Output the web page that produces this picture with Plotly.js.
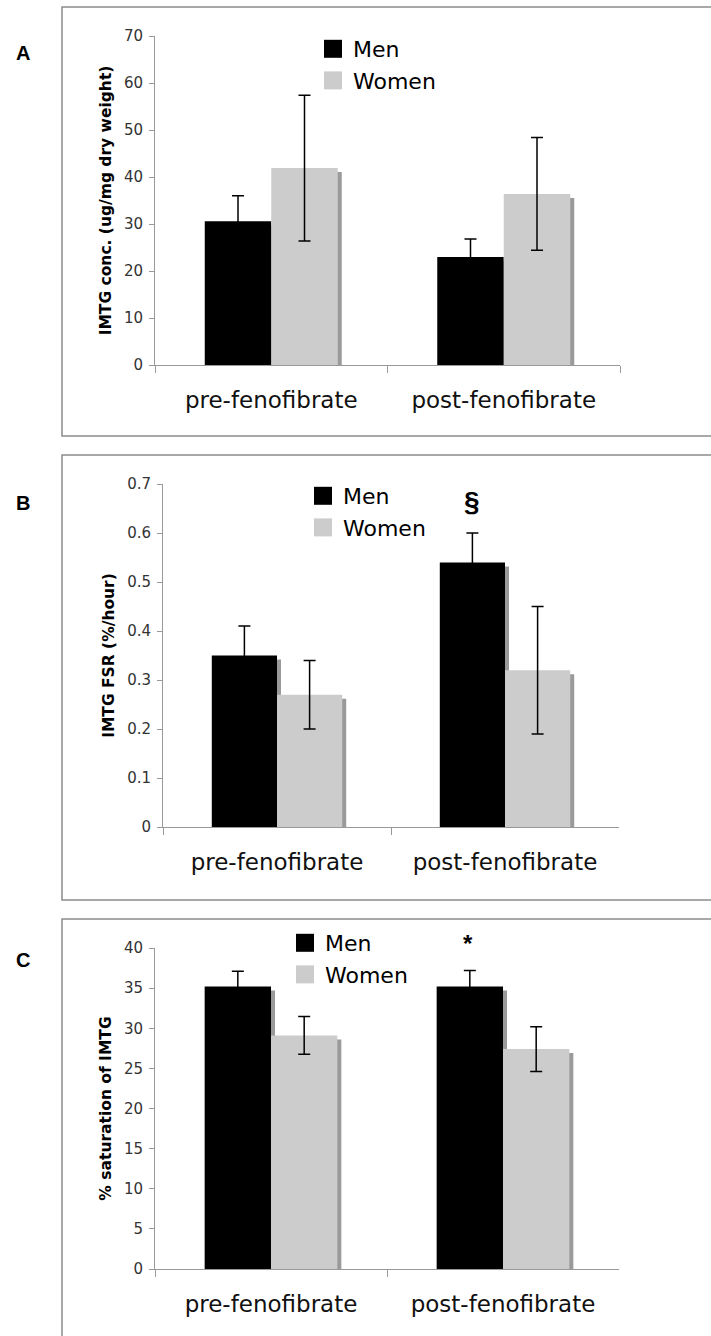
<!DOCTYPE html>
<html>
<head>
<meta charset="utf-8">
<script src="https://cdn.plot.ly/plotly-3.0.1.min.js"></script>
<style>
html,body{margin:0;padding:0;background:#fff;}
#chart{width:711px;height:1336px;}
</style>
</head>
<body>
<div id="chart"></div>
<script>
// ---- data ----
const categories = ['pre-fenofibrate', 'post-fenofibrate'];
const seriesNames = ['Men', 'Women'];

// Panel A: IMTG conc. (ug/mg dry weight)
const menA = [30.6, 23.0];
const menErrA = [5.4, 3.8];
const womenA = [41.9, 36.4];
const womenErrA = [15.5, 12.0];

// Panel B: IMTG FSR (%/hour)
const menB = [0.35, 0.54];
const menErrB = [0.06, 0.06];
const womenB = [0.27, 0.32];
const womenErrB = [0.07, 0.13];

// Panel C: % saturation of IMTG
const menC = [35.2, 35.2];
const menErrC = [1.9, 2.0];
const womenC = [29.1, 27.4];
const womenErrC = [2.35, 2.8];

const panelLetters = ['A', 'B', 'C'];
const yTitles = ['IMTG conc. (ug/mg dry weight)', 'IMTG FSR (%/hour)', '% saturation of IMTG'];
const yRanges = [[0, 70], [0, 0.7], [0, 40]];
const yDtick = [10, 0.1, 5];
const marks = ['', '§', '*'];

// ---- layout helpers ----
const W = 711, H = 1336;
const px = v => v / W;
const py = v => 1 - v / H;

// plot areas in pixels: [left, right, top, bottom]
const areas = [
  [155, 620, 36, 365],
  [163, 619, 484, 827],
  [155, 619, 948, 1269]
];

const BW = 0.286;            // bar width in category units
const MEN = '#000000', WOMEN = '#cccccc', SHADOW = '#9a9a9a';

const panels = [
  {men: menA, menErr: menErrA, women: womenA, womenErr: womenErrA},
  {men: menB, menErr: menErrB, women: womenB, womenErr: womenErrB},
  {men: menC, menErr: menErrC, women: womenC, womenErr: womenErrC}
];

const traces = [];
const layout = {
  width: W, height: H,
  margin: {l: 0, r: 0, t: 0, b: 0},
  paper_bgcolor: '#ffffff', plot_bgcolor: 'rgba(0,0,0,0)',
  barmode: 'overlay',
  showlegend: true,
  font: {family: 'DejaVu Sans', color: '#000'},
  shapes: [], annotations: []
};

panels.forEach((p, i) => {
  const a = areas[i];
  const xs = i === 0 ? '' : String(i + 1);
  const xa = 'x' + xs, ya = 'y' + xs;
  const legendId = i === 0 ? 'legend' : 'legend' + (i + 1);
  const catPx = (a[1] - a[0]) / 2;
  const unitPx = (a[3] - a[2]) / (yRanges[i][1] - yRanges[i][0]);
  const sdx = 4 / catPx, sdy = 4 / unitPx;   // shadow offset 4px

  // shadows (drawn first, behind)
  [[p.men, -BW], [p.women, 0]].forEach(([vals, off]) => {
    traces.push({
      type: 'bar', x: categories, y: vals.map(v => v - sdy),
      offset: off + sdx, width: BW,
      marker: {color: SHADOW, line: {width: 0}},
      xaxis: xa, yaxis: ya, showlegend: false, hoverinfo: 'skip'
    });
  });
  // Men
  traces.push({
    type: 'bar', name: seriesNames[0], x: categories, y: p.men,
    offset: -BW, width: BW,
    marker: {color: MEN, line: {width: 0}},
    error_y: {type: 'data', array: p.menErr, visible: true, color: '#000', thickness: 1.5, width: 6},
    xaxis: xa, yaxis: ya, legend: legendId, legendgroup: 'm' + i
  });
  // Women
  traces.push({
    type: 'bar', name: seriesNames[1], x: categories, y: p.women,
    offset: 0, width: BW,
    marker: {color: WOMEN, line: {width: 0}},
    error_y: {type: 'data', array: p.womenErr, visible: true, color: '#000', thickness: 1.5, width: 6},
    xaxis: xa, yaxis: ya, legend: legendId, legendgroup: 'w' + i
  });

  layout['xaxis' + xs] = {
    domain: [px(a[0]), px(a[1])], anchor: ya,
    type: 'category', range: [-0.5, 1.5],
    showline: true, linecolor: '#999', linewidth: 1,
    ticks: 'outside', tickson: 'boundaries', ticklen: 7, tickcolor: '#999',
    tickfont: {family: 'DejaVu Sans', size: 23, color: '#111'},
    ticklabelstandoff: 14,
    showgrid: false, zeroline: false, fixedrange: true
  };
  layout['yaxis' + xs] = {
    domain: [py(a[3]), py(a[2])], anchor: xa,
    range: yRanges[i], dtick: yDtick[i], tick0: 0,
    showline: true, linecolor: '#999', linewidth: 1,
    ticks: 'outside', ticklen: 5, tickcolor: '#999',
    tickfont: {family: 'DejaVu Sans', size: 15, color: '#333'},
    ticklabelstandoff: 3,
    showgrid: false, zeroline: false, fixedrange: true,
    title: {text: yTitles[i], font: {family: 'DejaVu Sans', size: 15.5, weight: 'bold', color: '#000'}, standoff: 8}
  };
});

// legends
const legPos = [[313, 28], [303, 475], [285, 922]];
const legGap = [10, 12, 13];
legPos.forEach((lp, i) => {
  const id = i === 0 ? 'legend' : 'legend' + (i + 1);
  layout[id] = {
    x: px(lp[0]), y: py(lp[1]), xanchor: 'left', yanchor: 'top',
    xref: 'paper', yref: 'paper',
    bgcolor: 'rgba(0,0,0,0)', borderwidth: 0,
    font: {family: 'DejaVu Sans', size: 22, color: '#000'},
    tracegroupgap: legGap[i], traceorder: 'normal'
  };
});

// panel frames
const frames = [[62, 7, 436], [62, 455, 900], [62, 919, 1345]];
frames.forEach(f => {
  layout.shapes.push({
    type: 'rect', xref: 'paper', yref: 'paper',
    x0: px(f[0]), x1: 1.02, y0: py(f[2]), y1: py(f[1]),
    line: {color: '#8c8c8c', width: 1.5}, fillcolor: 'rgba(0,0,0,0)', layer: 'below'
  });
});

// panel letters
const letterY = [53, 503, 960];
panelLetters.forEach((L, i) => {
  layout.annotations.push({
    text: L, xref: 'paper', yref: 'paper', x: px(23), y: py(letterY[i]),
    xanchor: 'center', yanchor: 'middle', showarrow: false,
    font: {family: 'Liberation Sans', size: 20, weight: 'bold', color: '#000'}
  });
});

// significance marks
layout.annotations.push({
  text: marks[1], xref: 'paper', yref: 'paper', x: px(472), y: py(501),
  xanchor: 'center', yanchor: 'middle', showarrow: false,
  font: {family: 'Liberation Sans', size: 28, weight: 'bold', color: '#000'}
});
layout.annotations.push({
  text: marks[2], xref: 'paper', yref: 'paper', x: px(468), y: py(943),
  xanchor: 'center', yanchor: 'middle', showarrow: false,
  font: {family: 'Liberation Sans', size: 24, weight: 'bold', color: '#000'}
});

Plotly.newPlot('chart', traces, layout, {staticPlot: true, displayModeBar: false}).then(gd => {
  // larger legend swatches (18px squares as in the reference)
  gd.querySelectorAll('.legendpoints path').forEach(el => el.setAttribute('d', 'M9,9H-9V-9H9Z'));
});
</script>
</body>
</html>
